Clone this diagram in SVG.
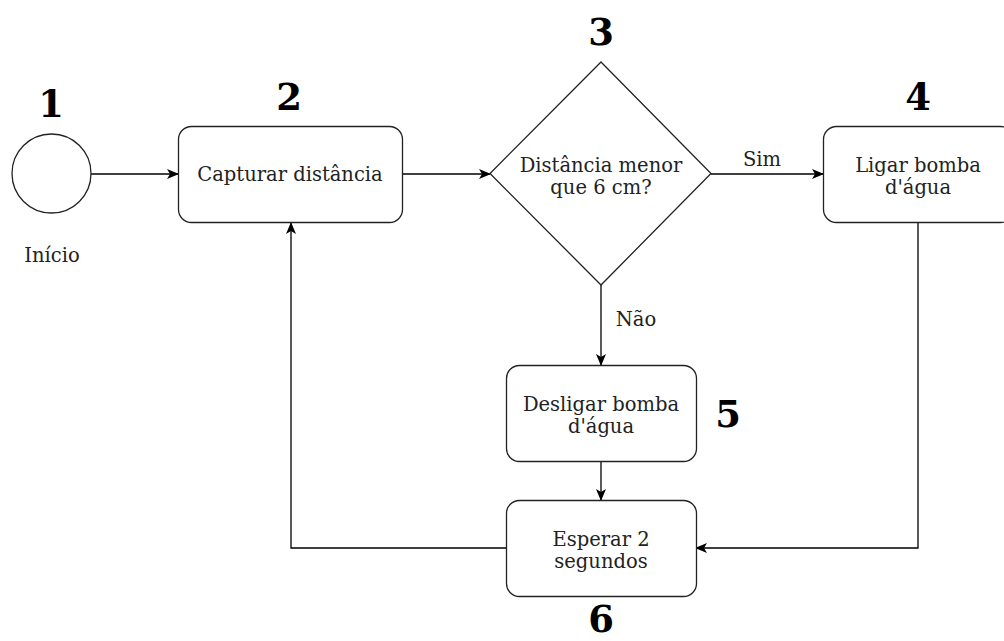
<svg xmlns="http://www.w3.org/2000/svg" width="1004" height="641" viewBox="0 0 1004 641">
  <defs>
    <marker id="arrow" viewBox="0 0 12 10" refX="11" refY="5" markerWidth="12" markerHeight="10" markerUnits="userSpaceOnUse" orient="auto">
      <path d="M0,0 L12,5 L0,10 L3,5 Z" fill="#000"/>
    </marker>
  </defs>
  <style>
    .shape { fill: #fff; stroke: #222; stroke-width: 1.3; }
    .edge { fill: none; stroke: #000; stroke-width: 1.3; marker-end: url(#arrow); }
    .label { font-family: "DejaVu Serif", "Liberation Serif", serif; font-size: 19.5px; fill: #222; text-anchor: middle; }
    .num { font-family: "DejaVu Serif", "Liberation Serif", serif; font-size: 37px; font-weight: bold; fill: #000; text-anchor: middle; }
  </style>
  <rect width="1004" height="641" fill="#fff"/>

  <!-- connectors -->
  <g id="connectors">
    <path class="edge" d="M91,174 L178,174"/>
    <path class="edge" d="M402,174 L490,174"/>
    <path class="edge" d="M711,174 L823,174"/>
    <text class="label" x="762" y="166">Sim</text>
    <path class="edge" d="M601,285 L601,365"/>
    <text class="label" x="636" y="326">Não</text>
    <path class="edge" d="M601,461 L601,500"/>
    <path class="edge" d="M918,222 L918,548 L696,548"/>
    <path class="edge" d="M506,548 L291,548 L291,223"/>
  </g>

  <!-- 1: start -->
  <g id="node-start">
    <circle class="shape" cx="51.5" cy="173.5" r="39.5"/>
    <text class="label" x="52" y="262">Início</text>
    <text class="num" x="51" y="117">1</text>
  </g>

  <!-- 2: capture distance -->
  <g id="node-capture">
    <rect class="shape" x="178.5" y="126.5" width="224" height="96" rx="13"/>
    <text class="label" x="290" y="181">Capturar distância</text>
    <text class="num" x="289" y="110">2</text>
  </g>

  <!-- 3: decision -->
  <g id="node-decision">
    <polygon class="shape" points="601,62 711,173.5 601,285 490,173.5"/>
    <text class="label" x="601" y="172">Distância menor</text>
    <text class="label" x="601" y="194">que 6 cm?</text>
    <text class="num" x="601" y="45">3</text>
  </g>

  <!-- 4: pump on -->
  <g id="node-pump-on">
    <rect class="shape" x="823.5" y="126.5" width="190" height="96" rx="13"/>
    <text class="label" x="918" y="172">Ligar bomba</text>
    <text class="label" x="918" y="194">d'água</text>
    <text class="num" x="918" y="110">4</text>
  </g>

  <!-- 5: pump off -->
  <g id="node-pump-off">
    <rect class="shape" x="506.5" y="365.5" width="190" height="96" rx="13"/>
    <text class="label" x="601" y="411">Desligar bomba</text>
    <text class="label" x="601" y="433">d'água</text>
    <text class="num" x="728" y="427">5</text>
  </g>

  <!-- 6: wait -->
  <g id="node-wait">
    <rect class="shape" x="506.5" y="500.5" width="190" height="96" rx="13"/>
    <text class="label" x="601" y="546">Esperar 2</text>
    <text class="label" x="601" y="568">segundos</text>
    <text class="num" x="601" y="632">6</text>
  </g>
</svg>
